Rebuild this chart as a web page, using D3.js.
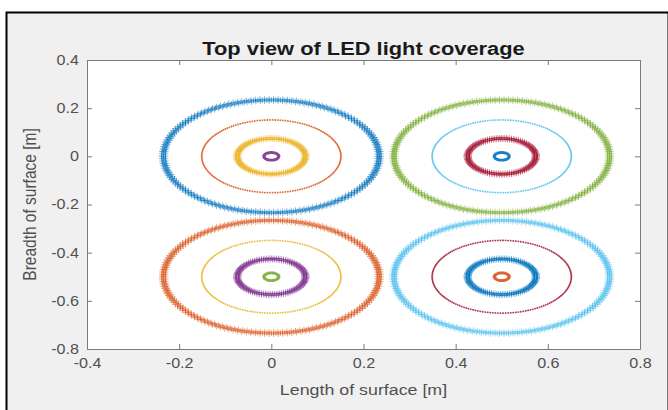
<!DOCTYPE html>
<html>
<head>
<meta charset="utf-8">
<script src="https://cdn.jsdelivr.net/npm/d3@7"></script>
<style>
  html, body { margin: 0; padding: 0; background: #ffffff; }
  svg { display: block; }
  text { font-family: "Liberation Sans", Arial, Helvetica, sans-serif; }
</style>
</head>
<body>
<svg id="chart" width="668" height="410"></svg>
<script>
// LED centres on the surface [m]
const ledX = [0, 0.5, 0, 0.5];
const ledY = [0, 0, -0.5, -0.5];

// Coverage contours drawn around every LED, outermost first
const ringRadius = [0.234, 0.151, 0.074, 0.016];          // [m]
const ringRows = [[-0.004, 0, 0.004], [0], [-0.003, 0.003], [-0.001, 0.001]]; // radial spread of marker rows [m]
const ringPoints = [150, 170, 90, 36];                     // markers per row

// Axes
const xDomain = [-0.4, 0.8];
const yDomain = [-0.8, 0.4];
const xTicks = [-0.4, -0.2, 0, 0.2, 0.4, 0.6, 0.8];
const yTicks = [-0.8, -0.6, -0.4, -0.2, 0, 0.2, 0.4];
const xTickLabels = ["-0.4", "-0.2", "0", "0.2", "0.4", "0.6", "0.8"];
const yTickLabels = ["-0.8", "-0.6", "-0.4", "-0.2", "0", "0.2", "0.4"];

// Default line colour order, used in turn by each contour
const lineColors = ["#0072BD", "#D95319", "#EDB120", "#7E2F8E", "#77AC30", "#4DBEEE", "#A2142F"];

// Marker look per contour
const markerHalf = [2.9, 0.9, 2.8, 1.2];
const markerWidth = [0.75, 1.1, 0.8, 1.3];
const markerOpacity = [0.7, 0.85, 0.75, 0.9];

const W = 668, H = 410;
const plot = { left: 87, right: 640, top: 60, bottom: 349 };
const stretch = 1.15;   // horizontal text scaling

const svg = d3.select("#chart");

// page + figure window
svg.append("rect").attr("x", 0).attr("y", 0).attr("width", W).attr("height", H).attr("fill", "#ffffff");
svg.append("rect")
  .attr("x", 6.5).attr("y", 12.5).attr("width", 662).attr("height", 402)
  .attr("fill", "#f0f0f0").attr("stroke", "#000000").attr("stroke-width", 2);

const x = d3.scaleLinear().domain(xDomain).range([plot.left, plot.right]);
const y = d3.scaleLinear().domain(yDomain).range([plot.bottom, plot.top]);

// plot area
svg.append("rect")
  .attr("x", plot.left).attr("y", plot.top)
  .attr("width", plot.right - plot.left).attr("height", plot.bottom - plot.top)
  .attr("fill", "#ffffff");

// contour markers ('+')
const marks = svg.append("g").attr("class", "contours");
ledX.forEach((cx, i) => {
  const cy = ledY[i];
  ringRadius.forEach((R, j) => {
    const color = lineColors[(i * ringRadius.length + j) % lineColors.length];
    const h = markerHalf[j];
    const n = ringPoints[j];
    let d = "";
    ringRows[j].forEach((off, rIdx) => {
      const r = R + off;
      const phase = rIdx * Math.PI / n;
      for (let k = 0; k < n; k++) {
        const t = 2 * Math.PI * k / n + phase;
        const px = x(cx + r * Math.cos(t));
        const py = y(cy + r * Math.sin(t));
        d += `M${(px - h).toFixed(2)},${py.toFixed(2)}h${(2 * h).toFixed(2)}` +
             `M${px.toFixed(2)},${(py - h).toFixed(2)}v${(2 * h).toFixed(2)}`;
      }
    });
    marks.append("path")
      .attr("d", d)
      .attr("fill", "none")
      .attr("stroke", color)
      .attr("stroke-width", markerWidth[j])
      .attr("stroke-opacity", markerOpacity[j]);
  });
});

// axes with inward ticks on all four sides
const axisColor = "#7a7a7a";
const labelColor = "#505050";
const tickLen = 5;

const gx = svg.append("g").attr("transform", `translate(0,${plot.bottom})`)
  .call(d3.axisBottom(x).tickValues(xTicks).tickSizeInner(-tickLen).tickSizeOuter(0)
    .tickPadding(9).tickFormat((d, i) => xTickLabels[i]));
const gy = svg.append("g").attr("transform", `translate(${plot.left},0)`)
  .call(d3.axisLeft(y).tickValues(yTicks).tickSizeInner(-tickLen).tickSizeOuter(0)
    .tickPadding(7).tickFormat((d, i) => yTickLabels[i]));
const gt = svg.append("g").attr("transform", `translate(0,${plot.top})`)
  .call(d3.axisTop(x).tickValues(xTicks).tickSizeInner(-tickLen).tickSizeOuter(0).tickFormat(""));
const gr = svg.append("g").attr("transform", `translate(${plot.right},0)`)
  .call(d3.axisRight(y).tickValues(yTicks).tickSizeInner(-tickLen).tickSizeOuter(0).tickFormat(""));

[gx, gy, gt, gr].forEach(g => {
  g.select(".domain").attr("stroke", axisColor).attr("stroke-width", 1);
  g.selectAll(".tick line").attr("stroke", axisColor).attr("stroke-width", 1);
  g.selectAll(".tick text")
    .attr("fill", labelColor)
    .attr("font-size", 14)
    .attr("transform", `scale(${stretch},1)`);
});

// title and axis labels
svg.append("text")
  .attr("transform", `translate(${(plot.left + plot.right) / 2},55) scale(${stretch},1)`)
  .attr("text-anchor", "middle")
  .attr("font-size", 19).attr("font-weight", "bold").attr("fill", "#1a1a1a")
  .text("Top view of LED light coverage");

svg.append("text")
  .attr("transform", `translate(${(plot.left + plot.right) / 2},395) scale(${stretch},1)`)
  .attr("text-anchor", "middle")
  .attr("font-size", 15.5).attr("fill", labelColor)
  .text("Length of surface [m]");

svg.append("text")
  .attr("transform", `translate(36,${(plot.top + plot.bottom) / 2}) rotate(-90) scale(1,${stretch})`)
  .attr("text-anchor", "middle")
  .attr("font-size", 15.5).attr("fill", labelColor)
  .text("Breadth of surface [m]");
</script>
</body>
</html>
